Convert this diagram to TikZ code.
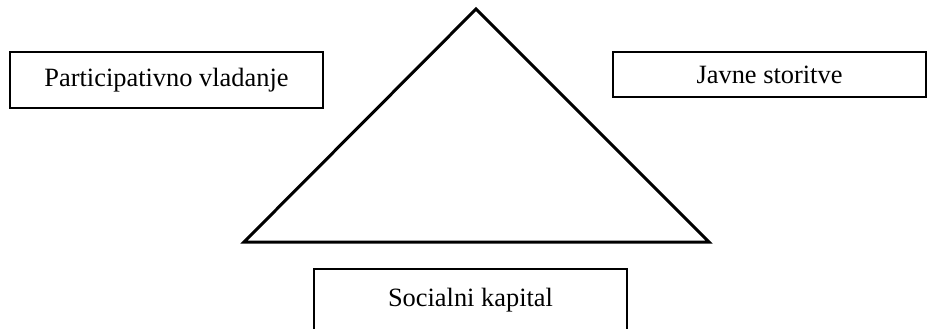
\documentclass[tikz,border=0pt]{standalone}
\usepackage{fontspec}
\setmainfont{Liberation Serif}
\usepackage{tikz}
\usetikzlibrary{positioning}

\begin{document}
\begin{tikzpicture}[x=0.5pt,y=-0.5pt,
  box/.style={draw, line width=1pt, minimum width=156.5pt, inner sep=0pt,
    font=\fontsize{13.2}{15}\selectfont}]
\useasboundingbox (0,0) rectangle (931,328);
% trikotnik
\coordinate (top) at (476,9);
\coordinate (bl) at (244,242);
\coordinate (br) at (709,242);
\draw[line width=1.5pt, line join=miter] (top)--(bl)--(br)--cycle;
% okvirji
\node[box, minimum height=28pt] (part) at (166.5,80) {Participativno vladanje};
\node[box, minimum height=22.5pt] (javne) at (769.5,74.5) {Javne storitve};
\node[box, anchor=north, text height=18.5pt, text depth=15pt] (soc) at (470.5,268) {Socialni kapital};
\end{tikzpicture}
\end{document}
